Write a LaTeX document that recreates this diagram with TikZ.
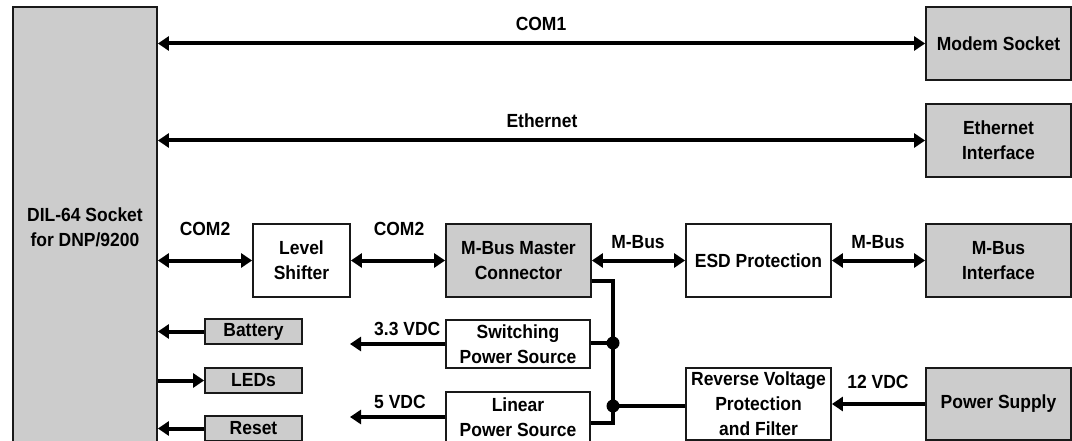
\documentclass[tikz,border=0pt]{standalone}
\usepackage{fontspec}
\setmainfont{Liberation Sans}[FakeStretch=0.92]
\usetikzlibrary{arrows.meta}
\begin{document}
\begin{tikzpicture}[x=1pt,y=-1pt,
  every node/.style={font=\fontsize{19}{25}\selectfont\bfseries, inner sep=0pt, align=center},
  gbox/.style={draw=black!90, line width=1.8pt, fill=black!20},
  wbox/.style={draw=black!90, line width=1.8pt, fill=white},
  link/.style={line width=4pt, black},
  bus/.style={line width=3.6pt, black},
  tip/.style={-{Triangle[length=11pt,width=14pt]}},
  both/.style={{Triangle[length=11pt,width=14pt]}-{Triangle[length=11pt,width=14pt]}},
  lbl/.style={font=\fontsize{19}{25}\selectfont\bfseries}
]
\useasboundingbox (0,0) rectangle (1072,441);
% boxes
\node[gbox, minimum width=144pt, minimum height=440pt] (dil) at (85,227) {DIL-64 Socket\\for DNP/9200};
\node[gbox, minimum width=145pt, minimum height=73pt] (modem) at (998.5,43.5) {Modem Socket};
\node[gbox, minimum width=145pt, minimum height=73pt] (eth) at (998.5,140.5) {Ethernet\\Interface};
\node[gbox, minimum width=145pt, minimum height=73pt] (mbi) at (998.5,260.5) {M-Bus\\Interface};
\node[gbox, minimum width=145pt, minimum height=72pt] (ps) at (998.5,404) {Power Supply};
\node[wbox, minimum width=97pt, minimum height=73pt] (ls) at (301.5,260.5) {Level\\Shifter};
\node[gbox, minimum width=145pt, minimum height=73pt] (mbm) at (518.5,260.5) {M-Bus Master\\Connector};
\node[wbox, minimum width=145pt, minimum height=73pt] (esd) at (758.5,260.5) {ESD Protection};
\node[wbox, minimum width=145pt, minimum height=72pt] (rv) at (758.5,404) {Reverse Voltage\\Protection\\and Filter};
\node[wbox, minimum width=144pt, minimum height=48pt] (sw) at (518,344) {Switching\\Power Source};
\node[wbox, minimum width=144pt, minimum height=50pt] (lin) at (518,417) {Linear\\Power Source};
\node[gbox, minimum width=97pt, minimum height=25pt] (bat) at (253.5,331.5) {Battery};
\node[gbox, minimum width=97pt, minimum height=25pt] (led) at (253.5,380.5) {LEDs};
\node[gbox, minimum width=97pt, minimum height=25pt] (rst) at (253.5,428.5) {Reset};
% free ends
\coordinate (v33) at (350,344);
\coordinate (v5) at (350,417);
\coordinate (bx1) at (613,281);
\coordinate (bx2) at (613,423);
\coordinate (dot1) at (613,343);
\coordinate (dot2) at (613,406);
% connectors
\draw[link,both] (dil.east |- modem.west) -- (modem.west);
\draw[link,both] (dil.east |- eth.west) -- (eth.west);
\draw[link,both] (dil.east |- ls.west) -- (ls.west);
\draw[link,both] (ls.east) -- (mbm.west);
\draw[link,both] (mbm.east) -- (esd.west);
\draw[link,both] (esd.east) -- (mbi.west);
\draw[link,tip] (bat.west) -- (dil.east |- bat.west);
\draw[link,tip] (dil.east |- led.west) -- (led.west);
\draw[link,tip] (rst.west) -- (dil.east |- rst.west);
\draw[link,tip] (sw.west) -- (v33);
\draw[link,tip] (lin.west) -- (v5);
\draw[link,tip] (ps.west) -- (rv.east |- ps.west);
\draw[bus] (mbm.east |- bx1) -- (bx1) -- (bx2) -- (lin.east |- bx2);
\draw[bus] (sw.east |- dot1) -- (dot1);
\draw[bus] (rv.west |- dot2) -- (dot2);
\fill (dot1) circle (6.5pt);
\fill (dot2) circle (6.5pt);
% labels
\node[lbl] (lcom1) at (541,24) {COM1};
\node[lbl] (leth) at (542,121) {Ethernet};
\node[lbl] (lcom2a) at (205,229) {COM2};
\node[lbl] (lcom2b) at (399,229) {COM2};
\node[lbl] (lmb1) at (638,242) {M-Bus};
\node[lbl] (lmb2) at (878,242) {M-Bus};
\node[lbl] (l12) at (878,382) {12 VDC};
\node[lbl, anchor=west] (l33) at (374,329) {3.3 VDC};
\node[lbl, anchor=west] (l5) at (374,402) {5 VDC};
\end{tikzpicture}
\end{document}
